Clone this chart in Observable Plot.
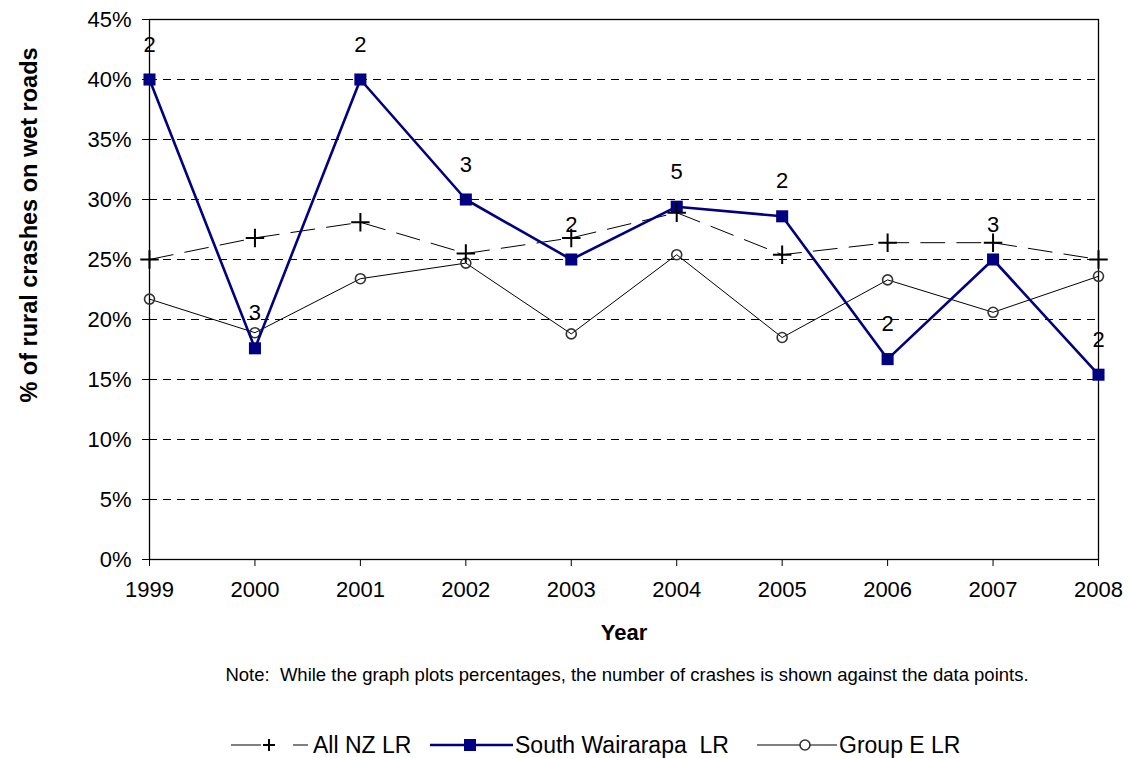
<!DOCTYPE html>
<html>
<head>
<meta charset="utf-8">
<script src="https://cdn.jsdelivr.net/npm/d3@7"></script>
<script src="https://cdn.jsdelivr.net/npm/@observablehq/plot@0.6"></script>
<style>
  body { margin: 0; background: #fff; font-family: "Liberation Sans", Arial, sans-serif; }
  #wrap { position: relative; width: 1132px; height: 758px; overflow: hidden; }
  #ytitle { position: absolute; left: 29px; top: 225px; transform: translate(-50%, -50%) rotate(-90deg); white-space: nowrap; font-weight: bold; font-size: 23.5px; color: #000; }
  #note { position: absolute; left: 0; width: 1254px; top: 664px; text-align: center; font-size: 18.5px; color: #000; white-space: pre; }
  #legend { position: absolute; left: 0; top: 731px; width: 1132px; height: 28px; font-size: 23px; color: #000; }
  #legend svg, #legend span { position: absolute; top: 0; white-space: pre; }
</style>
</head>
<body>
<div id="wrap">
  <div id="chart"></div>
  <div id="ytitle">% of rural crashes on wet roads</div>
  <div id="note">Note:  While the graph plots percentages, the number of crashes is shown against the data points.</div>
  <div id="legend"></div>
</div>
<script>
const years = [1999, 2000, 2001, 2002, 2003, 2004, 2005, 2006, 2007, 2008];
const allNZ = [25.0, 26.8, 28.1, 25.5, 26.8, 28.9, 25.4, 26.4, 26.4, 25.0];
const southWairarapa = [40.0, 17.6, 40.0, 30.0, 25.0, 29.4, 28.6, 16.7, 25.0, 15.4];
const groupE = [21.7, 18.9, 23.4, 24.7, 18.8, 25.4, 18.5, 23.3, 20.6, 23.6];
const crashCounts = [2, 3, 2, 3, 2, 5, 2, 2, 3, 2];
const yTicks = [0, 5, 10, 15, 20, 25, 30, 35, 40, 45];
const gridTicks = [5, 10, 15, 20, 25, 30, 35, 40];

const nz = years.map((y, i) => ({year: y, v: allNZ[i]}));
const sw = years.map((y, i) => ({year: y, v: southWairarapa[i], n: crashCounts[i]}));
const ge = years.map((y, i) => ({year: y, v: groupE[i]}));

const chart = Plot.plot({
  width: 1132,
  height: 650,
  marginTop: 19,
  marginBottom: 91,
  marginLeft: 149,
  marginRight: 34,
  style: {fontFamily: "'Liberation Sans', Arial, sans-serif", fontSize: "22px", color: "#000", background: "#fff", overflow: "visible"},
  x: {domain: [1999, 2008], ticks: years, tickFormat: d => String(d)},
  y: {domain: [0, 45], ticks: yTicks, tickFormat: d => d + "%"},
  marks: [
    Plot.ruleY(gridTicks, {stroke: "#000", strokeWidth: 1, strokeDasharray: "8,6"}),
    Plot.frame({stroke: "#000", strokeWidth: 1.3}),
    Plot.axisY({ticks: yTicks, tickFormat: d => d + "%", tickSize: 7, tickPadding: 11, fontSize: 22, label: null}),
    Plot.axisX({ticks: years, tickFormat: d => String(d), tickSize: 7, tickPadding: 15, fontSize: 22, label: null}),
    Plot.text(["Year"], {frameAnchor: "bottom", dy: 80, fontWeight: "bold", fontSize: 22}),
    Plot.line(nz, {x: "year", y: "v", stroke: "#000", strokeWidth: 1, strokeDasharray: "24,12"}),
    Plot.line(ge, {x: "year", y: "v", stroke: "#000", strokeWidth: 1}),
    Plot.dot(ge, {x: "year", y: "v", r: 5, stroke: "#333", strokeWidth: 1.6, fill: "none"}),
    Plot.line(sw, {x: "year", y: "v", stroke: "#000080", strokeWidth: 2.6}),
    Plot.dot(sw, {x: "year", y: "v", symbol: "square", r: 6.8, fill: "#000080", stroke: "none"}),
    Plot.dot(nz, {x: "year", y: "v", symbol: "plus", r: 6, stroke: "#000", strokeWidth: 2}),
    Plot.text(sw, {x: "year", y: "v", text: "n", dy: -35, fontSize: 22, fill: "#000"})
  ]
});
document.getElementById("chart").appendChild(chart);

// Legend
const legendItems = [
  {label: "All NZ LR", kind: "nz", sx: 231, tx: 313},
  {label: "South Wairarapa  LR", kind: "sw", sx: 430, tx: 515},
  {label: "Group E LR", kind: "ge", sx: 757, tx: 839}
];
const legend = d3.select("#legend");
legendItems.forEach(it => {
  const s = legend.append("svg").attr("width", 84).attr("height", 28).style("left", it.sx + "px");
  if (it.kind === "nz") {
    s.append("line").attr("x1", 0).attr("x2", 30).attr("y1", 14).attr("y2", 14).attr("stroke", "#000").attr("stroke-width", 1);
    s.append("line").attr("x1", 62).attr("x2", 77).attr("y1", 14).attr("y2", 14).attr("stroke", "#000").attr("stroke-width", 1);
    s.append("path").attr("d", "M32,14h12M38,8v12").attr("stroke", "#000").attr("stroke-width", 2);
  } else if (it.kind === "sw") {
    s.append("line").attr("x1", 0).attr("x2", 83).attr("y1", 14).attr("y2", 14).attr("stroke", "#000080").attr("stroke-width", 2.6);
    s.append("rect").attr("x", 34).attr("y", 8).attr("width", 12).attr("height", 12).attr("fill", "#000080");
  } else {
    s.append("line").attr("x1", 0).attr("x2", 80).attr("y1", 14).attr("y2", 14).attr("stroke", "#000").attr("stroke-width", 1);
    s.append("circle").attr("cx", 48).attr("cy", 14).attr("r", 5).attr("fill", "#fff").attr("stroke", "#333").attr("stroke-width", 1.6);
  }
  legend.append("span").text(it.label).style("left", it.tx + "px").style("line-height", "28px");
});
</script>
</body>
</html>
